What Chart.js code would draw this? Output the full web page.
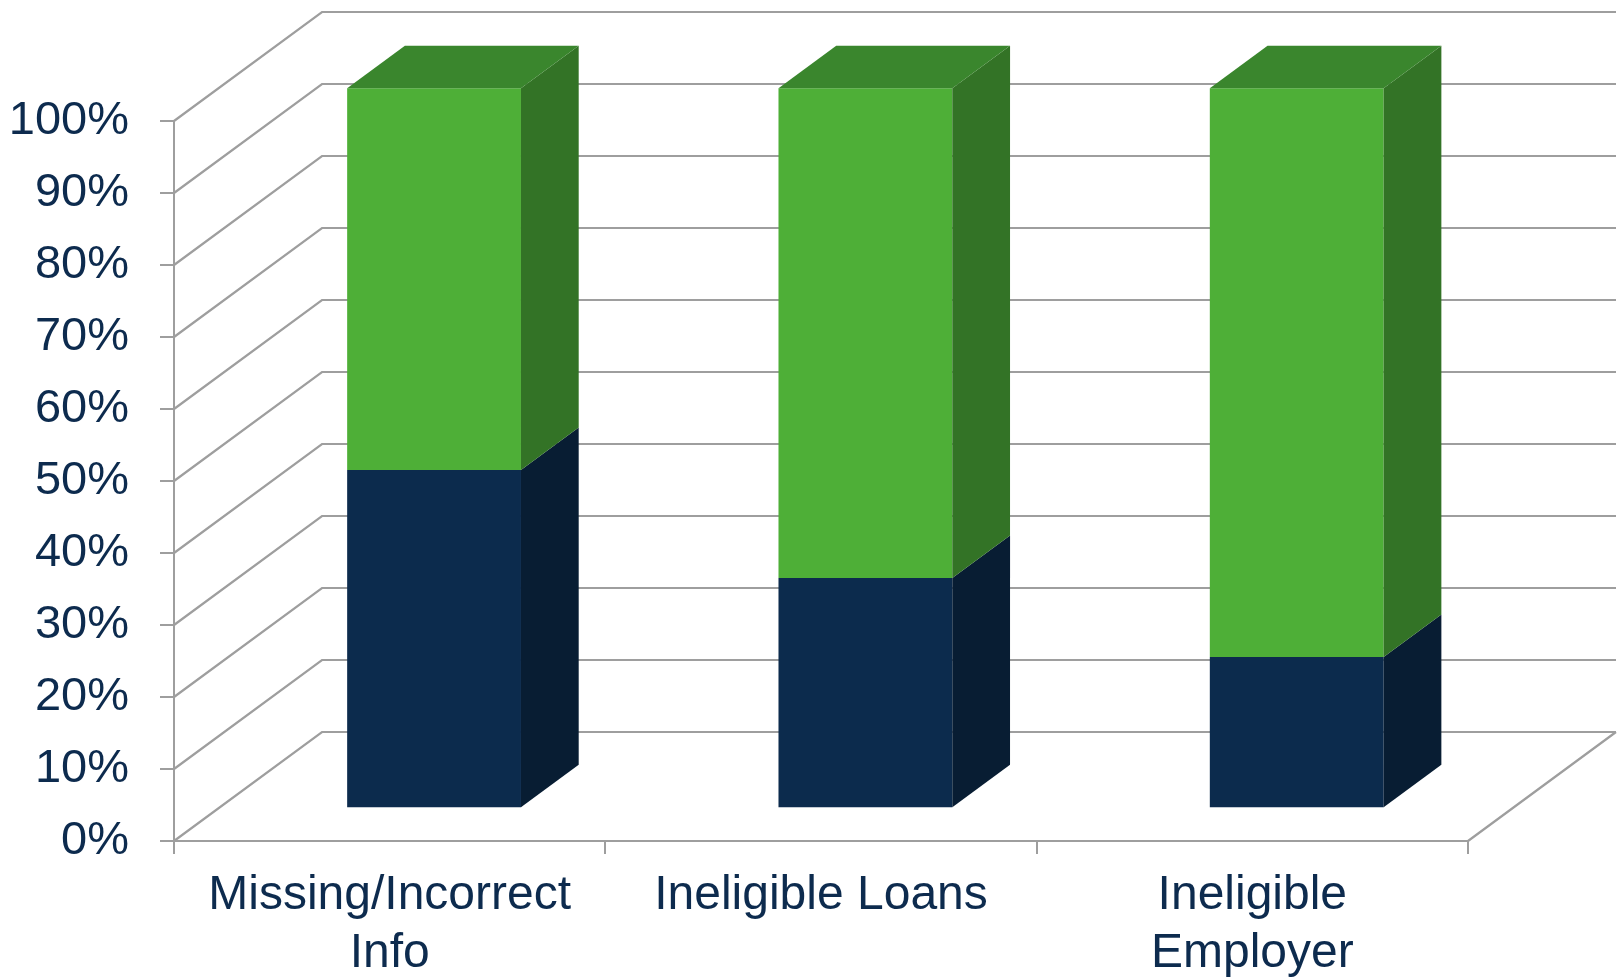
<!DOCTYPE html>
<html>
<head>
  <script src="https://cdn.jsdelivr.net/npm/chart.js"></script>
  <style>
    body { margin: 0; background: #fff; }
    #wrap { width: 1620px; height: 978px; position: relative; }
  </style>
</head>
<body>
  <div id="wrap">
    <canvas id="errorChart"></canvas>
  </div>

  <script>
    // data
    const categories = [['Missing/Incorrect', 'Info'], 'Ineligible Loans', ['Ineligible', 'Employer']];
    const navyValues = [47, 32, 21];
    const greenValues = [53, 68, 79];
    const yTickValues = [0, 10, 20, 30, 40, 50, 60, 70, 80, 90, 100];

    // look of the fake 3d box
    const WALL_DX = 148, WALL_DY = -109;   // depth of the walls
    const BAR_SHIFT = 0.30;                // where the bar front sits inside the depth
    const BAR_DEPTH = 0.39;                // how deep the bars are
    const gridColor = '#9e9e9e';
    const textColor = '#0d2b4e';

    Chart.defaults.font.family = "'Liberation Sans', Arial, sans-serif";

    const box3d = {
      id: 'box3d',
      beforeDatasetsDraw(chart) {
        const { ctx, chartArea: a, scales: { y } } = chart;
        ctx.save();
        ctx.strokeStyle = gridColor;
        ctx.lineWidth = 2.2;
        ctx.beginPath();
        yTickValues.forEach(v => {
          const py = y.getPixelForValue(v);
          ctx.moveTo(a.left, py);
          ctx.lineTo(a.left + WALL_DX, py + WALL_DY);
          ctx.lineTo(a.right + WALL_DX, py + WALL_DY);
        });
        // right edge of the floor
        ctx.moveTo(a.right, a.bottom);
        ctx.lineTo(a.right + WALL_DX, a.bottom + WALL_DY);
        ctx.stroke();
        ctx.restore();

        // push the bars back into the box
        ctx.save();
        ctx.translate(WALL_DX * BAR_SHIFT, WALL_DY * BAR_SHIFT);
      },
      afterDatasetsDraw(chart) {
        const ctx = chart.ctx;
        const bdx = WALL_DX * BAR_DEPTH, bdy = WALL_DY * BAR_DEPTH;
        const last = chart.data.datasets.length - 1;
        chart.data.datasets.forEach((ds, i) => {
          const meta = chart.getDatasetMeta(i);
          meta.data.forEach(bar => {
            const { x, y, base, width } = bar.getProps(['x', 'y', 'base', 'width'], true);
            const l = x - width / 2, r = x + width / 2;
            // side
            ctx.fillStyle = ds.sideColor;
            ctx.beginPath();
            ctx.moveTo(r, y);
            ctx.lineTo(r + bdx, y + bdy);
            ctx.lineTo(r + bdx, base + bdy);
            ctx.lineTo(r, base);
            ctx.closePath();
            ctx.fill();
            // top, only on the highest segment
            if (i === last) {
              ctx.fillStyle = ds.topColor;
              ctx.beginPath();
              ctx.moveTo(l, y);
              ctx.lineTo(l + bdx, y + bdy);
              ctx.lineTo(r + bdx, y + bdy);
              ctx.lineTo(r, y);
              ctx.closePath();
              ctx.fill();
            }
          });
        });
        ctx.restore();
      }
    };

    const ctx = document.getElementById('errorChart').getContext('2d');
    const errorChart = new Chart(ctx, {
      type: 'bar',
      data: {
        labels: categories,
        datasets: [{
          data: navyValues,
          backgroundColor: '#0c2b4d',
          sideColor: '#081d33',
          topColor: '#123a63',
          borderWidth: 0,
          clip: false
        }, {
          data: greenValues,
          backgroundColor: '#4eaf37',
          sideColor: '#337326',
          topColor: '#3a862d',
          borderWidth: 0,
          clip: false
        }]
      },
      options: {
        responsive: true,
        maintainAspectRatio: false,
        animation: false,
        barPercentage: 0.403,
        categoryPercentage: 1,
        layout: { padding: { top: 121, right: 152, left: 0, bottom: 0 } },
        plugins: {
          legend: { display: false },
          tooltip: { enabled: false }
        },
        scales: {
          x: {
            stacked: true,
            afterFit: s => { s.height = 137; },
            grid: { drawOnChartArea: false, drawTicks: true, tickLength: 13, color: gridColor, lineWidth: 2 },
            border: { display: true, color: gridColor, width: 2 },
            ticks: {
              color: textColor,
              padding: 12,
              maxRotation: 0,
              autoSkip: false,
              font: { size: 48, lineHeight: 1.22 }
            }
          },
          y: {
            stacked: true,
            min: 0,
            max: 100,
            afterFit: s => { s.width = 174; },
            afterBuildTicks: s => { s.ticks = yTickValues.map(v => ({ value: v })); },
            grid: { drawOnChartArea: false, drawTicks: true, tickLength: 14, color: gridColor, lineWidth: 2 },
            border: { display: true, color: gridColor, width: 2 },
            ticks: {
              color: textColor,
              padding: 31,
              font: { size: 47 },
              callback: v => v + '%'
            }
          }
        }
      },
      plugins: [box3d]
    });
  </script>
</body>
</html>
